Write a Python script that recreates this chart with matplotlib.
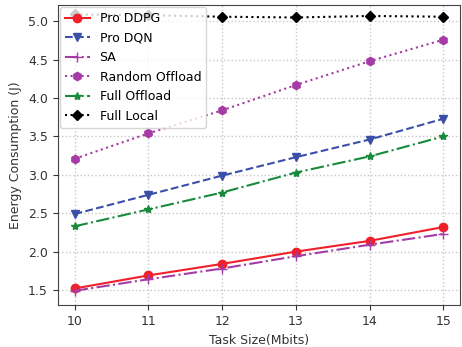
import matplotlib
matplotlib.use("Agg")
import matplotlib.pyplot as plt

task_size = [10, 11, 12, 13, 14, 15]
pro_ddpg = [1.52, 1.69, 1.84, 2.00, 2.14, 2.32]
pro_dqn = [2.49, 2.74, 2.99, 3.23, 3.46, 3.73]
sa = [1.49, 1.64, 1.78, 1.94, 2.09, 2.23]
random_offload = [3.21, 3.54, 3.84, 4.17, 4.48, 4.76]
full_offload = [2.33, 2.55, 2.77, 3.03, 3.24, 3.50]
full_local = [5.09, 5.08, 5.06, 5.05, 5.07, 5.06]

fig, ax = plt.subplots(figsize=(4.62, 3.47), dpi=100)
fig.subplots_adjust(left=0.125, right=0.996, top=0.985, bottom=0.12)

ax.plot(task_size, pro_ddpg, '-', color='#F0202A', marker='o', markersize=6, lw=1.5, label='Pro DDPG')
ax.plot(task_size, pro_dqn, '--', color='#3A4FA8', marker='v', markersize=6, lw=1.5, label='Pro DQN')
ax.plot(task_size, sa, '-.', color='#A53BA5', marker='+', markersize=7, lw=1.5, label='SA')
ax.plot(task_size, random_offload, ':', color='#A53BA5', marker='h', markersize=6, lw=1.5, label='Random Offload')
ax.plot(task_size, full_offload, '-.', color='#188A3C', marker='*', markersize=6, lw=1.5, label='Full Offload')
ax.plot(task_size, full_local, ':', color='black', marker='D', markersize=5, lw=1.5, label='Full Local')

ax.set_xlim(9.77, 15.23)
ax.set_ylim(1.30, 5.21)
ax.set_xticks(task_size)
ax.set_yticks([1.5, 2.0, 2.5, 3.0, 3.5, 4.0, 4.5, 5.0])
ax.grid(True, linestyle=':', color='#c8c8c8', lw=1)
ax.set_xlabel('Task Size(Mbits)', fontsize=9, color='#333333')
ax.set_ylabel('Energy Consumption (J)', fontsize=9, color='#333333')
ax.tick_params(labelsize=9, colors='#333333')
for s in ax.spines.values():
    s.set_color('#444444')
ax.legend(loc='upper left', fontsize=9, framealpha=0.8, borderpad=0.4,
          labelspacing=0.52, handlelength=2.0, borderaxespad=0.15)

fig.savefig('out.png', dpi=100)
